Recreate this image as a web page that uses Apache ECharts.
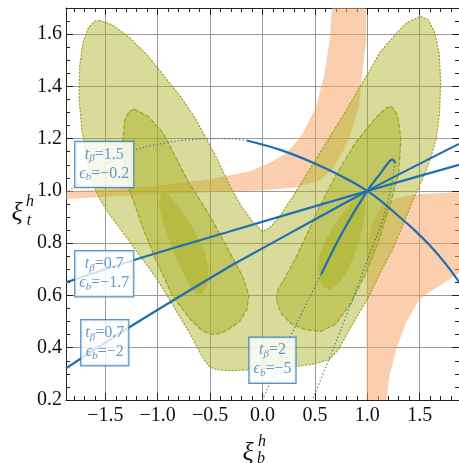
<!DOCTYPE html>
<html>
<head>
<meta charset="utf-8">
<script src="https://cdn.jsdelivr.net/npm/echarts@6/dist/echarts.min.js"></script>
<style>
  html, body { margin: 0; padding: 0; background: #fff; }
  #chart { width: 459px; height: 463px; }
</style>
</head>
<body>
<div id="chart"></div>
<script>
// axis ranges and tick positions
const xRange = [-1.875, 1.875];
const yRange = [0.2, 1.7];
const xMajor = [-1.5, -1.0, -0.5, 0.0, 0.5, 1.0, 1.5];
const xMinor = [-1.8, -1.7, -1.6, -1.4, -1.3, -1.2, -1.1, -0.9, -0.8, -0.7, -0.6,
                -0.4, -0.3, -0.2, -0.1, 0.1, 0.2, 0.3, 0.4, 0.6, 0.7, 0.8, 0.9,
                1.1, 1.2, 1.3, 1.4, 1.6, 1.7, 1.8];
const yMajor = [0.2, 0.4, 0.6, 0.8, 1.0, 1.2, 1.4, 1.6];
const yMinor = [0.25, 0.3, 0.35, 0.45, 0.5, 0.55, 0.65, 0.7, 0.75, 0.85, 0.9, 0.95,
                1.05, 1.1, 1.15, 1.25, 1.3, 1.35, 1.45, 1.5, 1.55, 1.65];

// orange bands (outline points, xi_b, xi_t)
const bandUpper = [[-1.875,1.0],[-1.5,1.005],[-1.0,1.02],[-0.5,1.045],[-0.12,1.075],[0.07,1.108],
  [0.23,1.145],[0.38,1.216],[0.51,1.32],[0.59,1.445],[0.64,1.576],[0.667,1.72],
  [0.99,1.72],[0.99,1.576],[0.95,1.445],[0.92,1.32],[0.86,1.243],[0.78,1.16],[0.68,1.09],
  [0.55,1.04],[0.3,1.012],[0.0,1.003],[-0.5,0.995],[-1.0,0.988],[-1.5,0.978],[-1.875,0.968]];
const bandLower = [[0.993,0.18],[0.993,0.6],[1.005,0.78],[1.05,0.88],[1.13,0.94],[1.3,0.975],
  [1.5,0.988],[1.9,0.995],[1.9,0.69],[1.7,0.64],[1.59,0.612],[1.495,0.585],[1.37,0.497],
  [1.276,0.394],[1.21,0.29],[1.18,0.18]];

// fit regions: outer, middle and inner contours
const outerRegion = [[-1.552,1.652],[-1.43,1.635],[-1.27,1.587],[-1.1,1.52],[-0.95,1.445],
  [-0.78,1.36],[-0.63,1.27],[-0.44,1.128],[-0.3,1.01],[-0.2,0.94],[-0.1,0.885],[0.0,0.845],
  [0.07,0.86],[0.16,0.9],[0.3,0.985],[0.46,1.09],[0.74,1.27],[1.0,1.445],[1.12,1.53],
  [1.27,1.6],[1.38,1.645],[1.51,1.668],[1.58,1.655],[1.64,1.61],[1.685,1.53],[1.70,1.42],
  [1.69,1.3],[1.657,1.2],[1.6,1.12],[1.52,1.04],[1.43,0.96],[1.34,0.87],[1.24,0.776],
  [1.14,0.70],[1.0,0.585],[0.83,0.47],[0.72,0.39],[0.64,0.356],[0.5,0.338],[0.31,0.328],
  [0.1,0.322],[-0.1,0.316],[-0.3,0.312],[-0.42,0.315],[-0.5,0.325],[-0.56,0.355],
  [-0.62,0.40],[-0.667,0.436],[-0.82,0.54],[-1.01,0.665],[-1.24,0.79],[-1.36,0.857],
  [-1.46,0.91],[-1.55,0.967],[-1.62,1.03],[-1.66,1.094],[-1.72,1.223],[-1.75,1.35],
  [-1.745,1.476],[-1.714,1.568],[-1.66,1.625],[-1.6,1.65]];
const midLeft = [[-1.22,1.312],[-1.09,1.285],[-0.95,1.223],[-0.83,1.13],[-0.70,1.03],
  [-0.54,0.93],[-0.40,0.83],[-0.28,0.74],[-0.18,0.665],[-0.13,0.6],[-0.15,0.545],
  [-0.22,0.5],[-0.324,0.47],[-0.40,0.455],[-0.476,0.451],[-0.57,0.463],[-0.695,0.512],
  [-0.86,0.6],[-1.01,0.73],[-1.14,0.857],[-1.22,0.95],[-1.267,1.0],[-1.31,1.094],
  [-1.33,1.197],[-1.314,1.273],[-1.27,1.305]];
const midRight = [[1.23,1.324],[1.29,1.29],[1.32,1.2],[1.3,1.07],[1.22,0.95],[1.1,0.8],
  [0.98,0.68],[0.85,0.575],[0.7,0.49],[0.55,0.462],[0.4,0.47],[0.28,0.49],[0.18,0.53],
  [0.13,0.585],[0.15,0.625],[0.19,0.65],[0.3,0.73],[0.42,0.83],[0.52,0.92],[0.7,1.06],
  [0.88,1.18],[1.08,1.28],[1.18,1.318]];
const innerLeft = [[-0.96,1.0],[-0.9,0.99],[-0.8,0.94],[-0.67,0.864],[-0.56,0.776],
  [-0.51,0.7],[-0.53,0.64],[-0.58,0.605],[-0.64,0.608],[-0.7,0.64],[-0.8,0.72],
  [-0.88,0.8],[-0.95,0.88],[-0.99,0.95]];
const innerRight = [[0.95,1.0],[0.985,0.96],[0.96,0.87],[0.9,0.78],[0.82,0.7],[0.72,0.64],
  [0.63,0.622],[0.56,0.64],[0.53,0.69],[0.54,0.75],[0.6,0.81],[0.7,0.88],[0.83,0.945],
  [0.92,0.99]];

// 2HDM coupling curves through the SM point (1, 1)
const curveTb15Dotted = [[-1.875,0.99],[-1.55,1.09],[-1.25,1.152],[-0.95,1.182],
  [-0.62,1.198],[-0.3,1.2],[-0.15,1.193]];
const curveTb15 = [[-0.15,1.193],[0.17,1.157],[0.5,1.105],[0.81,1.045],[1.0,1.0],
  [1.15,0.955],[1.3,0.903],[1.45,0.85],[1.6,0.79],[1.75,0.72],[1.875,0.652]];
const curveTb07a = [[-1.875,0.65],[-1.24,0.734],[-0.314,0.845],[1.0,1.0],[1.875,1.1]];
const curveTb07b = [[-1.875,0.321],[-1.24,0.486],[-0.314,0.711],[-0.124,0.753],[1.0,1.0],
  [1.875,1.18]];
const curveTb2DottedA = [[0.0,0.2],[0.286,0.459],[0.56,0.681]];
const curveTb2 = [[0.56,0.681],[0.76,0.84],[1.0,1.0],[1.14,1.075],[1.21,1.113],
  [1.24,1.12],[1.265,1.108]];
const curveTb2DottedB = [[1.265,1.108],[1.22,1.0],[1.14,0.88],[1.04,0.776],[0.76,0.482],
  [0.476,0.2]];

// curve labels: anchor (xi_b, xi_t), tan(beta), epsilon_b
const noteX = [-1.51, -1.51, -1.505, 0.095];
const noteY = [1.101, 0.683, 0.419, 0.352];
const noteTb = ['1.5', '0.7', '0.7', '2'];
const noteEb = ['−0.2', '−1.7', '−2', '−5'];

const SERIF = '"Liberation Serif", "DejaVu Serif", serif';
const BLUE = '#1f6db2';
const NOTE_BLUE = '#3c7dbd';
const OLIVE = 'rgba(168,176,28,0.45)';
const OLIVE_EDGE = '#a0a228';

function fmt(v) {
  const s = Math.abs(v).toFixed(1);
  return (v < -1e-9 ? '−' : '') + s;
}

function region(pts, fill, stroke, dash) {
  return {
    type: 'custom', coordinateSystem: 'cartesian2d', clip: true, silent: true,
    data: pts,
    renderItem: function (params, api) {
      if (params.dataIndex !== 0) return;
      return {
        type: 'polygon',
        shape: { points: pts.map(function (p) { return api.coord(p); }) },
        style: { fill: fill, stroke: stroke || 'none', lineWidth: stroke ? 1.2 : 0,
                 lineDash: dash || null, lineCap: 'round' }
      };
    }
  };
}

function curve(pts, dotted) {
  return {
    type: 'line', data: pts, showSymbol: false, symbol: 'none', smooth: 0.35,
    silent: true, clip: true, z: 5,
    lineStyle: dotted ? { color: BLUE, width: 1.1, type: [1.2, 2.4] }
                      : { color: BLUE, width: 2.2 }
  };
}

function xAxisDef(pos, values, len, major) {
  return {
    type: 'value', min: xRange[0], max: xRange[1], position: pos,
    axisLine: { show: major, onZero: false, lineStyle: { color: '#222', width: 1 } },
    axisTick: { show: true, inside: true, length: len, customValues: values,
                lineStyle: { color: '#222', width: 1 } },
    axisLabel: { show: major && pos === 'bottom', customValues: values, formatter: fmt,
                 margin: 6, color: '#111', fontSize: 20, fontFamily: SERIF },
    splitLine: { show: major && pos === 'bottom', lineStyle: { color: '#9a9a9a', width: 1 } }
  };
}
function yAxisDef(pos, values, len, major) {
  return {
    type: 'value', min: yRange[0], max: yRange[1], position: pos,
    axisLine: { show: major, onZero: false, lineStyle: { color: '#222', width: 1 } },
    axisTick: { show: true, inside: true, length: len, customValues: values,
                lineStyle: { color: '#222', width: 1 } },
    axisLabel: { show: major && pos === 'left', customValues: values, formatter: fmt,
                 margin: 4, color: '#111', fontSize: 20, fontFamily: SERIF },
    splitLine: { show: major && pos === 'left', lineStyle: { color: '#9a9a9a', width: 1 } }
  };
}

const noteData = noteX.map(function (x, i) {
  return { value: [x, noteY[i]],
           label: { formatter: '{i|t}{s|β}{r|=' + noteTb[i] + '}\n{i|ϵ}{s|b}{r|=' + noteEb[i] + '}' } };
});

const chart = echarts.init(document.getElementById('chart'), null, { renderer: 'canvas' });
chart.setOption({
  animation: false,
  backgroundColor: '#ffffff',
  grid: { left: 66, top: 8, width: 394, height: 392, containLabel: false },
  xAxis: [
    xAxisDef('bottom', xMajor, 7, true),
    xAxisDef('bottom', xMinor, 4, false),
    xAxisDef('top', xMajor, 7, true),
    xAxisDef('top', xMinor, 4, false)
  ],
  yAxis: [
    yAxisDef('left', yMajor, 7, true),
    yAxisDef('left', yMinor, 4, false),
    yAxisDef('right', yMajor, 7, true),
    yAxisDef('right', yMinor, 4, false)
  ],
  series: [
    region(bandUpper, 'rgba(247,168,108,0.55)'),
    region(bandLower, 'rgba(247,168,108,0.55)'),
    region(outerRegion, OLIVE, OLIVE_EDGE, [1.2, 2.3]),
    region(midLeft, OLIVE, OLIVE_EDGE, [4, 2.5]),
    region(midRight, OLIVE, OLIVE_EDGE, [4, 2.5]),
    region(innerLeft, OLIVE),
    region(innerRight, OLIVE),
    curve(curveTb15Dotted, true),
    curve(curveTb15, false),
    curve(curveTb07a, false),
    curve(curveTb07b, false),
    curve(curveTb2DottedA, true),
    curve(curveTb2, false),
    curve(curveTb2DottedB, true),
    {
      type: 'scatter', data: noteData, symbol: 'circle', symbolSize: 1, z: 10, silent: true,
      itemStyle: { color: 'rgba(255,255,255,0)' },
      label: {
        show: true, position: 'inside', backgroundColor: '#ffffff',
        borderColor: '#2f78b6', borderWidth: 1.2, padding: [3, 4, 4, 4],
        color: NOTE_BLUE, fontFamily: SERIF, fontSize: 16, lineHeight: 19, align: 'center',
        rich: {
          i: { fontStyle: 'italic', fontFamily: SERIF, fontSize: 16, lineHeight: 19, color: NOTE_BLUE },
          r: { fontFamily: SERIF, fontSize: 16, lineHeight: 19, color: NOTE_BLUE },
          s: { fontStyle: 'italic', fontFamily: SERIF, fontSize: 11, lineHeight: 12,
               verticalAlign: 'bottom', color: NOTE_BLUE }
        }
      }
    }
  ],
  graphic: [
    { type: 'text', x: 17, y: 213, silent: true,
      style: { text: 'ξ', font: 'italic 26px ' + SERIF, fill: '#111', align: 'center', verticalAlign: 'middle' } },
    { type: 'text', x: 30, y: 202, silent: true,
      style: { text: 'h', font: 'italic 16px ' + SERIF, fill: '#111', align: 'center', verticalAlign: 'middle' } },
    { type: 'text', x: 29, y: 221, silent: true,
      style: { text: 't', font: 'italic 16px ' + SERIF, fill: '#111', align: 'center', verticalAlign: 'middle' } },
    { type: 'text', x: 248, y: 453, silent: true,
      style: { text: 'ξ', font: 'italic 26px ' + SERIF, fill: '#111', align: 'center', verticalAlign: 'middle' } },
    { type: 'text', x: 262, y: 442, silent: true,
      style: { text: 'h', font: 'italic 16px ' + SERIF, fill: '#111', align: 'center', verticalAlign: 'middle' } },
    { type: 'text', x: 261, y: 459, silent: true,
      style: { text: 'b', font: 'italic 16px ' + SERIF, fill: '#111', align: 'center', verticalAlign: 'middle' } }
  ]
});
</script>
</body>
</html>
